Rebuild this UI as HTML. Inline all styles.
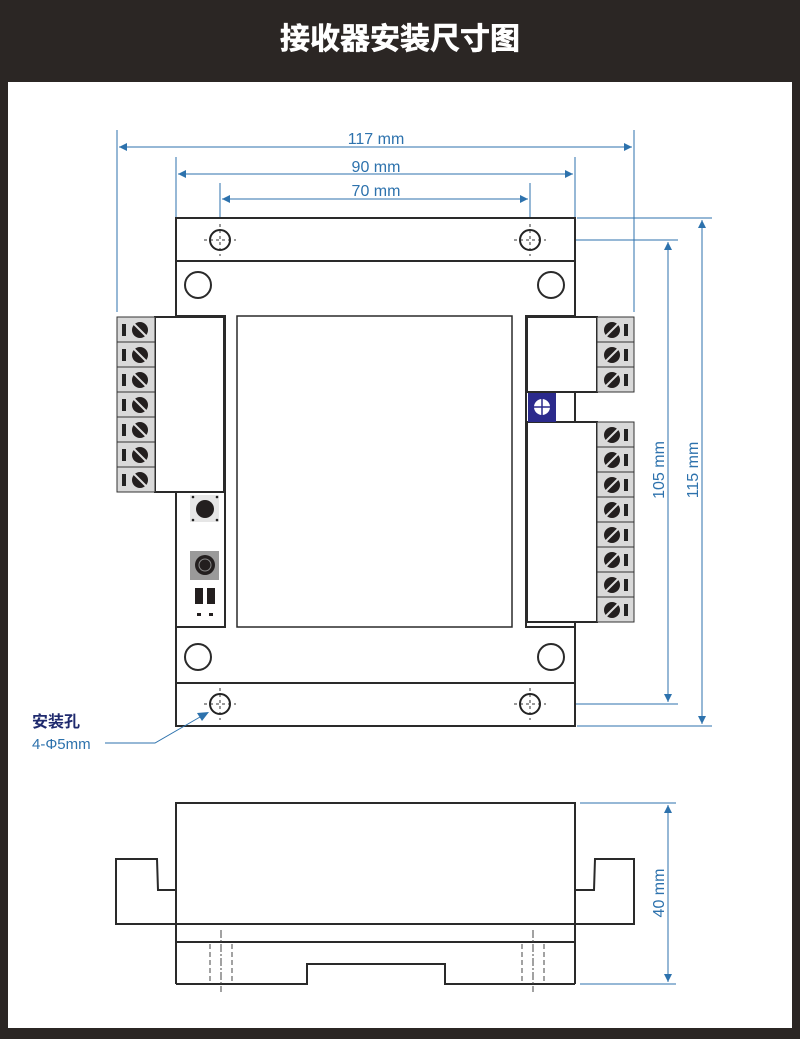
<!DOCTYPE html>
<html><head><meta charset="utf-8"><style>
html,body{margin:0;padding:0;background:#2b2624;}
svg{display:block}
</style></head><body>
<svg width="800" height="1039" viewBox="0 0 800 1039" xmlns="http://www.w3.org/2000/svg" font-family="Liberation Sans, sans-serif">
<defs>
<marker id="a" viewBox="0 0 10 10" refX="10" refY="5" markerWidth="10" markerHeight="8" markerUnits="userSpaceOnUse" orient="auto-start-reverse"><path d="M0,0 L10,5 L0,10z" fill="#2d72ad"/></marker>
<g id="tl"><rect x="0" y="0" width="38" height="25" fill="#d9d9d9" stroke="#333" stroke-width="1"/><rect x="5" y="7" width="4" height="12" fill="#222"/><circle cx="23" cy="13" r="8" fill="#231f1f"/><line x1="17" y1="7" x2="29" y2="19" stroke="#ddd" stroke-width="2"/></g>
<g id="tr"><rect x="0" y="0" width="37" height="25" fill="#d9d9d9" stroke="#333" stroke-width="1"/><circle cx="15" cy="13" r="8" fill="#231f1f"/><line x1="9" y1="19" x2="21" y2="7" stroke="#ddd" stroke-width="2"/><rect x="27" y="7" width="4" height="12" fill="#222"/></g>
<g id="mh"><circle r="10" fill="none" stroke="#222" stroke-width="2"/><line x1="-16" y1="0" x2="16" y2="0" stroke="#333" stroke-width="1" stroke-dasharray="3,3"/><line x1="0" y1="-16" x2="0" y2="16" stroke="#333" stroke-width="1" stroke-dasharray="3,3"/></g>
</defs>
<rect x="8" y="82" width="784" height="946" fill="#fff"/>
<text x="400" y="49" text-anchor="middle" fill="#fff" font-size="30" font-weight="bold" font-family="Liberation Sans, Noto Sans CJK SC, sans-serif" stroke="#fff" stroke-width="0.6">接收器安装尺寸图</text>

<g stroke="#2d72ad" stroke-width="1" fill="none">
<line x1="117" y1="130" x2="117" y2="312"/><line x1="634" y1="130" x2="634" y2="312"/>
<line x1="176" y1="157" x2="176" y2="218"/><line x1="575" y1="157" x2="575" y2="218"/>
<line x1="220" y1="183" x2="220" y2="225"/><line x1="530" y1="183" x2="530" y2="225"/>
<line x1="119" y1="147" x2="632" y2="147" marker-start="url(#a)" marker-end="url(#a)"/>
<line x1="178" y1="174" x2="573" y2="174" marker-start="url(#a)" marker-end="url(#a)"/>
<line x1="222" y1="199" x2="528" y2="199" marker-start="url(#a)" marker-end="url(#a)"/>
<line x1="577" y1="218" x2="712" y2="218"/><line x1="560" y1="240" x2="678" y2="240"/>
<line x1="560" y1="704" x2="678" y2="704"/><line x1="577" y1="726" x2="712" y2="726"/>
<line x1="668" y1="242" x2="668" y2="702" marker-start="url(#a)" marker-end="url(#a)"/>
<line x1="702" y1="220" x2="702" y2="724" marker-start="url(#a)" marker-end="url(#a)"/>
<line x1="580" y1="803" x2="676" y2="803"/><line x1="580" y1="984" x2="676" y2="984"/>
<line x1="668" y1="805" x2="668" y2="982" marker-start="url(#a)" marker-end="url(#a)"/>
</g>
<g fill="#2d72ad" font-size="16" text-anchor="middle">
<text x="376" y="144">117 mm</text>
<text x="376" y="172">90 mm</text>
<text x="376" y="196">70 mm</text>
<text transform="translate(664,470) rotate(-90)">105 mm</text>
<text transform="translate(698,470) rotate(-90)">115 mm</text>
<text transform="translate(664,893) rotate(-90)">40 mm</text>
</g>
<text x="32" y="727" fill="#1f2a6e" font-size="16" font-weight="bold" font-family="Liberation Sans, Noto Sans CJK SC, sans-serif">安装孔</text>
<text x="32" y="749" fill="#2d72ad" font-size="15" font-family="Liberation Sans, Noto Sans CJK SC, sans-serif">4-Φ5mm</text>

<g stroke="#2a2a2a" stroke-width="2" fill="#fff">
<rect x="176" y="218" width="399" height="508"/>
<line x1="176" y1="261" x2="575" y2="261"/>
<line x1="176" y1="683" x2="575" y2="683"/>
<rect x="237" y="316" width="275" height="311" stroke-width="1.5"/>
<rect x="176" y="316" width="49" height="311" fill="none"/>
<rect x="526" y="316" width="49" height="311" fill="none"/>
<circle cx="198" cy="285" r="13"/><circle cx="551" cy="285" r="13"/>
<circle cx="198" cy="657" r="13"/><circle cx="551" cy="657" r="13"/>
<rect x="155" y="317" width="69" height="175"/>
<rect x="527" y="317" width="70" height="75"/>
<rect x="527" y="422" width="70" height="200"/>
</g>
<use href="#mh" x="220" y="240"/><use href="#mh" x="530" y="240"/>
<use href="#mh" x="220" y="704"/><use href="#mh" x="530" y="704"/>

<polyline points="105,743 155,743 200,717" stroke="#2d72ad" stroke-width="1" fill="none"/>
<path d="M209,712 L197,713 L202,721z" fill="#2d72ad"/>

<use href="#tl" x="117" y="317"/><use href="#tl" x="117" y="342"/><use href="#tl" x="117" y="367"/><use href="#tl" x="117" y="392"/><use href="#tl" x="117" y="417"/><use href="#tl" x="117" y="442"/><use href="#tl" x="117" y="467"/>
<use href="#tr" x="597" y="317"/><use href="#tr" x="597" y="342"/><use href="#tr" x="597" y="367"/>
<use href="#tr" x="597" y="422"/><use href="#tr" x="597" y="447"/><use href="#tr" x="597" y="472"/><use href="#tr" x="597" y="497"/><use href="#tr" x="597" y="522"/><use href="#tr" x="597" y="547"/><use href="#tr" x="597" y="572"/><use href="#tr" x="597" y="597"/>

<rect x="528" y="393" width="28" height="29" fill="#2b2a8c"/>
<circle cx="542" cy="407" r="8" fill="#fff"/>
<line x1="534" y1="407" x2="550" y2="407" stroke="#2b2a8c" stroke-width="1.5"/><line x1="542" y1="399" x2="542" y2="415" stroke="#2b2a8c" stroke-width="1.5"/>

<rect x="190" y="495" width="29" height="27" fill="#e6e6e6"/>
<circle cx="205" cy="509" r="9" fill="#231f1f"/>
<circle cx="193" cy="497" r="1.3" fill="#222"/><circle cx="217" cy="497" r="1.3" fill="#222"/><circle cx="193" cy="520" r="1.3" fill="#222"/><circle cx="217" cy="520" r="1.3" fill="#222"/>
<rect x="190" y="551" width="29" height="29" fill="#9a9a9a"/>
<circle cx="205" cy="565" r="10" fill="#231f1f"/><circle cx="205" cy="565" r="6" fill="none" stroke="#888" stroke-width="1"/>
<rect x="195" y="588" width="8" height="16" fill="#231f1f"/><rect x="207" y="588" width="8" height="16" fill="#231f1f"/>
<rect x="197" y="613" width="4" height="3" fill="#231f1f"/><rect x="209" y="613" width="4" height="3" fill="#231f1f"/>

<g stroke="#2a2a2a" stroke-width="2" fill="none">
<rect x="176" y="803" width="399" height="121"/>
<polyline points="176,890 158,890 157,859 116,859 116,924 176,924"/>
<polyline points="575,890 594,890 595,859 634,859 634,924 575,924"/>
<line x1="176" y1="924" x2="176" y2="984"/><line x1="575" y1="924" x2="575" y2="984"/>
<line x1="176" y1="942" x2="575" y2="942"/>
<polyline points="176,984 307,984 307,964 445,964 445,984 575,984"/>
</g>
<g stroke="#444" stroke-width="1" fill="none">
<line x1="210" y1="944" x2="210" y2="983" stroke-dasharray="5,3"/><line x1="232" y1="944" x2="232" y2="983" stroke-dasharray="5,3"/>
<line x1="221" y1="930" x2="221" y2="992" stroke-dasharray="8,2,2,2"/>
<line x1="522" y1="944" x2="522" y2="983" stroke-dasharray="5,3"/><line x1="544" y1="944" x2="544" y2="983" stroke-dasharray="5,3"/>
<line x1="533" y1="930" x2="533" y2="992" stroke-dasharray="8,2,2,2"/>
</g>
</svg>
</body></html>
